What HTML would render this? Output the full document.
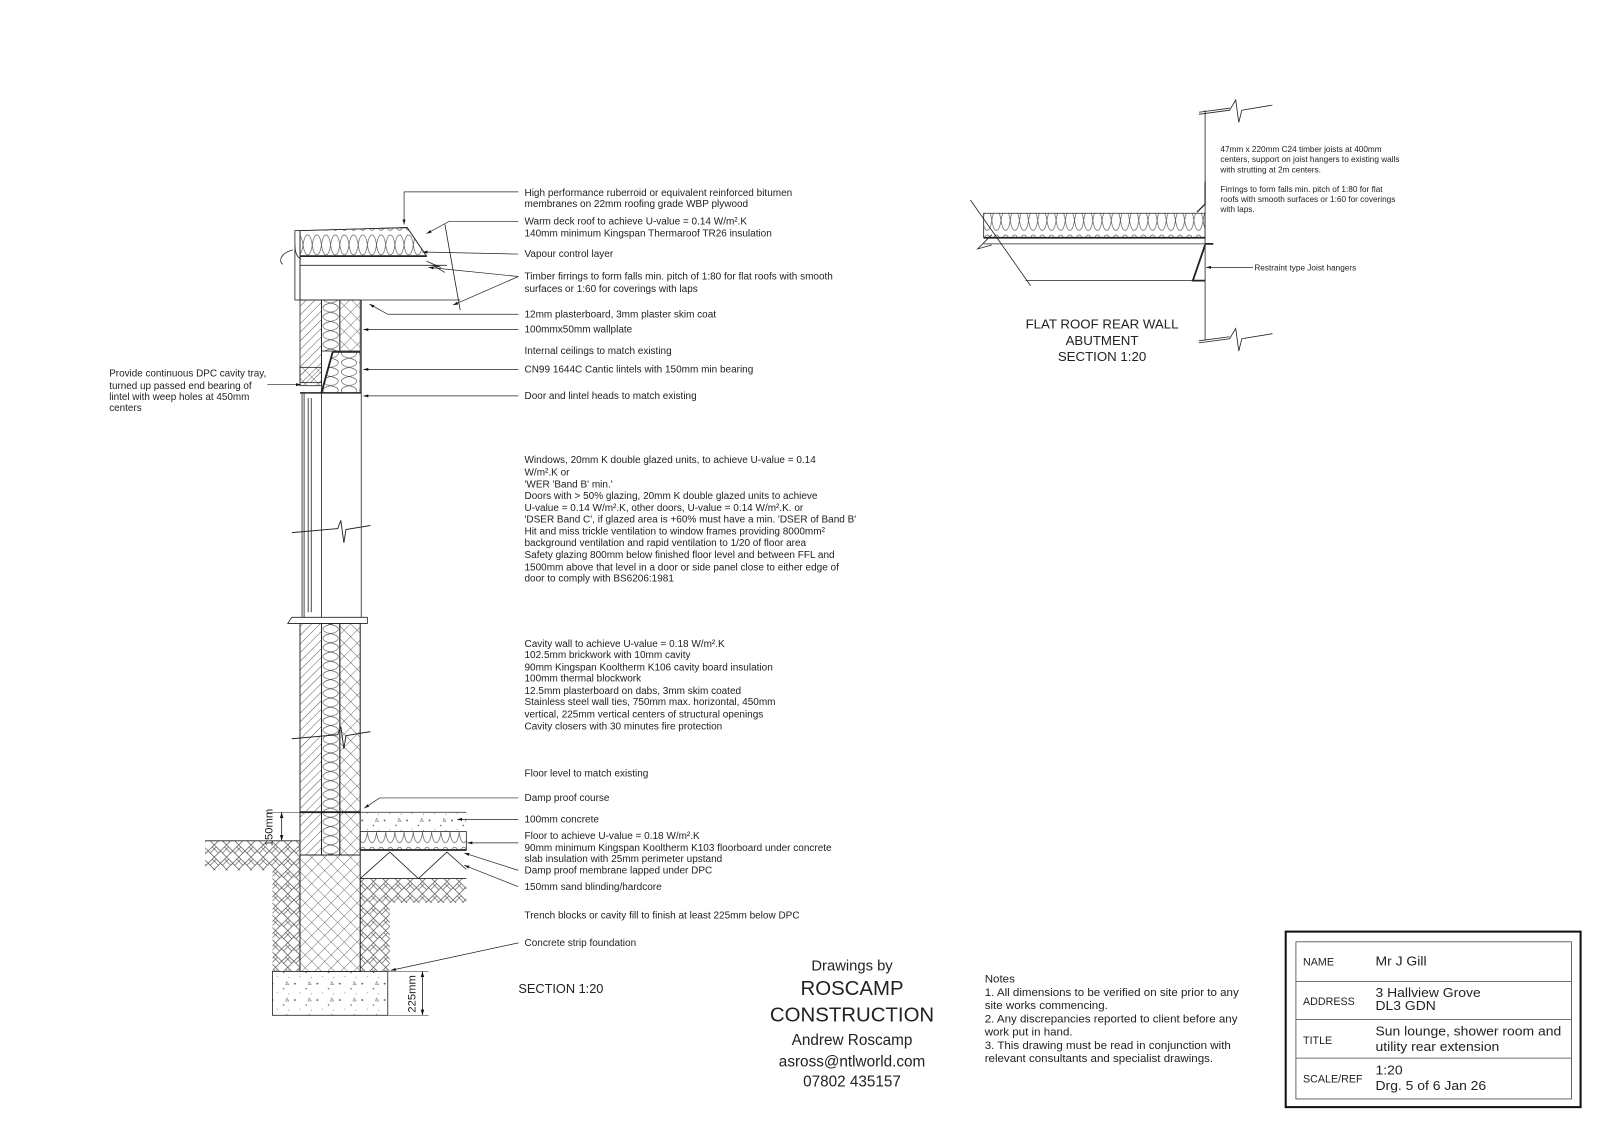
<!DOCTYPE html>
<html><head><meta charset="utf-8"><style>
html,body{margin:0;padding:0;background:#fff;}
svg{display:block;}
text{font-family:"Liberation Sans",sans-serif;fill:#222;}
.l{font-size:10px;}
</style></head><body>
<svg width="1600" height="1131" viewBox="0 0 1568 1108.4" xmlns="http://www.w3.org/2000/svg">
<defs>
<pattern id="brick" width="6" height="6" patternUnits="userSpaceOnUse" patternTransform="rotate(45)"><line x1="0" y1="0" x2="0" y2="6" stroke="#333" stroke-width="0.8"/></pattern>
<pattern id="block" width="9" height="9" patternUnits="userSpaceOnUse" patternTransform="rotate(45)"><line x1="0" y1="0" x2="0" y2="9" stroke="#333" stroke-width="0.7"/><line x1="0" y1="0" x2="9" y2="0" stroke="#333" stroke-width="0.7"/></pattern>
<pattern id="insV" width="18" height="9" patternUnits="userSpaceOnUse"><path d="M0,0 C10,2 10,7 0,9 M18,0 C8,2 8,7 18,9" fill="none" stroke="#444" stroke-width="0.6"/></pattern>
<pattern id="insH" width="9" height="24" patternUnits="userSpaceOnUse"><path d="M0,0 C2,13 7,13 9,0 M0,24 C2,11 7,11 9,24" fill="none" stroke="#444" stroke-width="0.6"/></pattern>
<pattern id="ground" width="12" height="12" patternUnits="userSpaceOnUse"><path d="M0,6 L6,0 M2,8 L8,2 M6,12 L12,6 M6,0 L12,6 M4,2 L10,8 M0,6 L6,12" fill="none" stroke="#444" stroke-width="0.6"/></pattern>
<pattern id="conc" width="22" height="16" patternUnits="userSpaceOnUse"><circle cx="3" cy="4" r="0.9" fill="#555"/><circle cx="14" cy="9" r="0.7" fill="#555"/><circle cx="8" cy="13" r="0.5" fill="#777"/><path d="M17,2 l2,3 h-3z" fill="none" stroke="#666" stroke-width="0.5"/><circle cx="19" cy="14" r="0.5" fill="#777"/></pattern>
<marker id="a" viewBox="0 0 10 10" refX="10" refY="5" markerWidth="7" markerHeight="7" orient="auto-start-reverse"><path d="M0,2 L10,5 L0,8z" fill="#111"/></marker>
</defs>
<g stroke="#222" stroke-width="0.8" fill="none">
<!-- ROOF -->
<rect x="289" y="226" width="5" height="68" fill="#fff"/>
<path d="M294,226 L399,223 L418,251 L294,251z" fill="url(#insH)"/>
<path d="M294,226 L399,223 L418,251" />
<line x1="294" y1="251" x2="418" y2="251" stroke-width="1.8"/>
<line x1="294" y1="260" x2="438" y2="260"/>
<line x1="294" y1="294" x2="451" y2="294"/>
<line x1="294" y1="251" x2="294" y2="294"/>
<path d="M436,220 L451,304"/>
<path d="M418,256 l14,6 l-8,-2 l12,7" />
<path d="M287,245 c-10,2 -15,10 -10,14 M289,240 c0,8 2,12 6,14"/>
<!-- upper wall -->
<rect x="294" y="294" width="21" height="81" fill="url(#brick)"/>
<rect x="294" y="360" width="21" height="18" fill="url(#block)"/>
<rect x="315" y="294" width="18" height="50" fill="url(#insV)"/>
<rect x="333" y="294" width="20" height="50" fill="url(#block)"/>
<path d="M315,385 L326,345 L353,345 L353,385z" fill="url(#insV)"/>
<line x1="315" y1="385" x2="326" y2="345" stroke-width="1.8"/>
<line x1="326" y1="345" x2="353" y2="345" stroke-width="1.3"/>
<line x1="294" y1="385" x2="354" y2="385" stroke-width="1.5"/>
<line x1="315" y1="294" x2="315" y2="385"/>
<line x1="354" y1="294" x2="354" y2="605"/>
<!-- window -->
<line x1="296" y1="385" x2="296" y2="605"/><line x1="298" y1="385" x2="298" y2="605"/>
<line x1="302" y1="390" x2="302" y2="600"/><line x1="305" y1="390" x2="305" y2="600"/>
<line x1="315" y1="385" x2="315" y2="605"/>
<path d="M282,611 L286,605 L360,605 L360,611z" fill="#fff"/>
<path d="M286,522 l45,-4 l3,-8 l3,22 l2,-13 l24,-4" fill="#fff" stroke-width="0.9"/>
<!-- lower wall -->
<rect x="294" y="611" width="21" height="227" fill="url(#brick)"/>
<rect x="315" y="611" width="18" height="227" fill="url(#insV)"/>
<rect x="333" y="611" width="20" height="227" fill="url(#block)"/>
<line x1="294" y1="611" x2="294" y2="838"/><line x1="315" y1="611" x2="315" y2="838"/><line x1="333" y1="611" x2="333" y2="838"/><line x1="353" y1="611" x2="353" y2="838"/>
<line x1="294" y1="796" x2="353" y2="796" stroke-width="1.8"/>
<path d="M286,724 l45,-4 l3,-8 l3,22 l2,-13 l24,-4" fill="none" stroke-width="0.9"/>
<!-- ground -->
<path d="M201,824 L294,824 L294,952 L267,952 L267,853 L201,853z" fill="url(#ground)" stroke="none"/>
<line x1="201" y1="824" x2="294" y2="824"/>
<path d="M353,861 L457,861 L457,885 L382,885 L382,952 L353,952z" fill="url(#ground)" stroke="none"/>
<rect x="294" y="838" width="59" height="114" fill="url(#block)"/>
<rect x="294" y="838" width="59" height="114"/>
<rect x="267" y="952" width="113" height="43" fill="url(#conc)"/>
<!-- floor -->
<rect x="353" y="796" width="104" height="19" fill="url(#conc)" stroke="none"/>
<line x1="353" y1="796" x2="457" y2="796"/>
<rect x="353" y="815" width="104" height="18" fill="url(#insH)"/>
<line x1="353" y1="833" x2="457" y2="833" stroke-width="1.8"/>
<path d="M353,861 L382,835 L410,861 L438,835 L457,852"/>
<line x1="353" y1="861" x2="457" y2="861"/>
<!-- dims -->
<line x1="262" y1="796" x2="294" y2="796" stroke-width="0.5"/>
<line x1="276" y1="796" x2="276" y2="824" marker-start="url(#a)" marker-end="url(#a)"/>
<line x1="380" y1="952" x2="420" y2="952" stroke-width="0.5"/>
<line x1="380" y1="995" x2="420" y2="995" stroke-width="0.5"/>
<line x1="414" y1="952" x2="414" y2="995" marker-start="url(#a)" marker-end="url(#a)"/>
<!-- leaders -->
<g marker-end="url(#a)" stroke-width="0.7">
<path d="M508,188 H396 V220"/>
<path d="M508,217 H440 L418,229"/>
<path d="M508,249 L414,247"/>
<path d="M508,271 L420,262"/>
<path d="M508,271 L444,299"/>
<path d="M508,308 H380 L362,298"/>
<path d="M508,323 H356"/>
<path d="M508,362 H356"/>
<path d="M508,388 H356"/>
<path d="M262,377 H295"/>
<path d="M508,782 H372 L357,792"/>
<path d="M508,803 H448"/>
<path d="M508,826 H458"/>
<path d="M508,853 L455,836"/>
<path d="M508,869 L455,848"/>
<path d="M508,924 L383,951"/>
<path d="M1228,262 H1182"/>
</g>
<!-- RIGHT DETAIL -->
<line x1="1181" y1="108" x2="1181" y2="333"/>
<path d="M1175,112 l30,-4 l6,-10 l3,22 l3,-12 l30,-5 M1175,110 l30,-4" />
<path d="M1175,336 l30,-4 l6,-10 l3,22 l3,-12 l30,-5 M1175,334 l30,-4" />
<path d="M964,209 L1181,209 L1181,233 L964,233z" fill="url(#insH)"/>
<line x1="964" y1="233" x2="1181" y2="233" stroke-width="1.8"/>
<line x1="964" y1="239" x2="1181" y2="239"/>
<line x1="1005" y1="275" x2="1181" y2="275"/>
<path d="M951,196 L1010,280"/>
<path d="M972,230 l-14,14 l14,-4" />
<path d="M1181,239 h8 M1181,275 h-12 L1181,240" stroke-width="1.8"/>
<path d="M1181,178 v22 l-8,8" stroke-width="1.2"/>
</g>
<!-- TEXTS -->
<g class="l">
<g transform="translate(514 0) scale(0.98 1)">
<text x="0" y="192">High performance ruberroid or equivalent reinforced bitumen</text>
<text x="0" y="203">membranes on 22mm roofing grade WBP plywood</text>
<text x="0" y="220">Warm deck roof to achieve U-value = 0.14 W/m².K</text>
<text x="0" y="232">140mm minimum Kingspan Thermaroof TR26 insulation</text>
<text x="0" y="252">Vapour control layer</text>
<text x="0" y="274">Timber firrings to form falls min. pitch of 1:80 for flat roofs with smooth</text>
<text x="0" y="286">surfaces or 1:60 for coverings with laps</text>
<text x="0" y="311">12mm plasterboard, 3mm plaster skim coat</text>
<text x="0" y="326">100mmx50mm wallplate</text>
<text x="0" y="347">Internal ceilings to match existing</text>
<text x="0" y="365">CN99 1644C Cantic lintels with 150mm min bearing</text>
<text x="0" y="391">Door and lintel heads to match existing</text>
<text x="0" y="454">Windows, 20mm K double glazed units, to achieve U-value = 0.14</text>
<text x="0" y="466">W/m².K or</text>
<text x="0" y="478">'WER 'Band B' min.'</text>
<text x="0" y="489">Doors with &gt; 50% glazing, 20mm K double glazed units to achieve</text>
<text x="0" y="501">U-value = 0.14 W/m².K, other doors, U-value = 0.14 W/m².K. or</text>
<text x="0" y="512">'DSER Band C', if glazed area is +60% must have a min. 'DSER of Band B'</text>
<text x="0" y="524">Hit and miss trickle ventilation to window frames providing 8000mm²</text>
<text x="0" y="535">background ventilation and rapid ventilation to 1/20 of floor area</text>
<text x="0" y="547">Safety glazing 800mm below finished floor level and between FFL and</text>
<text x="0" y="559">1500mm above that level in a door or side panel close to either edge of</text>
<text x="0" y="570">door to comply with BS6206:1981</text>
<text x="0" y="634">Cavity wall to achieve U-value = 0.18 W/m².K</text>
<text x="0" y="645">102.5mm brickwork with 10mm cavity</text>
<text x="0" y="657">90mm Kingspan Kooltherm K106 cavity board insulation</text>
<text x="0" y="668">100mm thermal blockwork</text>
<text x="0" y="680">12.5mm plasterboard on dabs, 3mm skim coated</text>
<text x="0" y="691">Stainless steel wall ties, 750mm max. horizontal, 450mm</text>
<text x="0" y="703">vertical, 225mm vertical centers of structural openings</text>
<text x="0" y="715">Cavity closers with 30 minutes fire protection</text>
<text x="0" y="761">Floor level to match existing</text>
<text x="0" y="785">Damp proof course</text>
<text x="0" y="806">100mm concrete</text>
<text x="0" y="822">Floor to achieve U-value = 0.18 W/m².K</text>
<text x="0" y="834">90mm minimum Kingspan Kooltherm K103 floorboard under concrete</text>
<text x="0" y="845">slab insulation with 25mm perimeter upstand</text>
<text x="0" y="856">Damp proof membrane lapped under DPC</text>
<text x="0" y="872">150mm sand blinding/hardcore</text>
<text x="0" y="900">Trench blocks or cavity fill to finish at least 225mm below DPC</text>
<text x="0" y="927">Concrete strip foundation</text>
</g>
<g transform="translate(107 0) scale(0.97 1)">
<text x="0" y="369">Provide continuous DPC  cavity tray,</text>
<text x="0" y="381">turned up passed end bearing of</text>
<text x="0" y="392">lintel with weep holes at 450mm</text>
<text x="0" y="403">centers</text>
</g>
<g transform="translate(1196 0) scale(0.95 1)" style="font-size:8.5px">
<text x="0" y="149">47mm x 220mm C24 timber joists at 400mm</text>
<text x="0" y="159">centers, support on joist hangers to existing walls</text>
<text x="0" y="169">with strutting at 2m centers.</text>
<text x="0" y="188">Firrings to form falls min. pitch of 1:80 for flat</text>
<text x="0" y="198">roofs with smooth surfaces or 1:60 for coverings</text>
<text x="0" y="208">with laps.</text>
<text x="35" y="265">Restraint type Joist hangers</text>
</g>
</g>
<text x="0" y="0" transform="translate(267 811) rotate(-90)" text-anchor="middle" style="font-size:11px">150mm</text>
<text x="0" y="0" transform="translate(407 974) rotate(-90)" text-anchor="middle" style="font-size:11px">225mm</text>
<text x="508" y="973" style="font-size:12.5px">SECTION 1:20</text>
<g text-anchor="middle" style="font-size:13px">
<text x="1080" y="322">FLAT ROOF REAR WALL</text>
<text x="1080" y="338">ABUTMENT</text>
<text x="1080" y="354">SECTION 1:20</text>
</g>
<g text-anchor="middle">
<text x="835" y="951" style="font-size:14.5px">Drawings by</text>
<text x="835" y="975" style="font-size:20px">ROSCAMP</text>
<text x="835" y="1001" style="font-size:20px">CONSTRUCTION</text>
<text x="835" y="1024" style="font-size:15px">Andrew Roscamp</text>
<text x="835" y="1045" style="font-size:15px">asross@ntlworld.com</text>
<text x="835" y="1065" style="font-size:15px">07802 435157</text>
</g>
<g transform="translate(965 0) scale(1.03 1)" style="font-size:11px">
<text x="0" y="963">Notes</text>
<text x="0" y="976">1. All dimensions to be verified on site  prior to any</text>
<text x="0" y="989">site works commencing.</text>
<text x="0" y="1002">2. Any discrepancies reported to client before any</text>
<text x="0" y="1015">work put in hand.</text>
<text x="0" y="1028">3. This drawing must be read in conjunction with</text>
<text x="0" y="1041">relevant consultants and specialist drawings.</text>
</g>
<!-- title block -->
<rect x="1260" y="913" width="289" height="172" fill="none" stroke="#111" stroke-width="2"/>
<rect x="1270" y="923" width="270" height="154" fill="none" stroke="#444" stroke-width="0.8"/>
<g stroke="#444" stroke-width="0.8"><line x1="1270" y1="962" x2="1540" y2="962"/><line x1="1270" y1="999" x2="1540" y2="999"/><line x1="1270" y1="1037" x2="1540" y2="1037"/></g>
<g style="font-size:10.5px;fill:#555">
<text x="1277" y="946">NAME</text><text x="1277" y="985">ADDRESS</text><text x="1277" y="1023">TITLE</text><text x="1277" y="1061">SCALE/REF</text>
</g>
<g style="font-size:13px" transform="translate(1348 0) scale(1.05 1)">
<text x="0" y="946">Mr J Gill</text>
<text x="0" y="977">3 Hallview Grove</text><text x="0" y="990">DL3 GDN</text>
<text x="0" y="1015">Sun lounge, shower room and</text><text x="0" y="1030">utility rear extension</text>
<text x="0" y="1053">1:20</text><text x="0" y="1068">Drg.   5 of 6 Jan 26</text>
</g>
</svg>
</body></html>
